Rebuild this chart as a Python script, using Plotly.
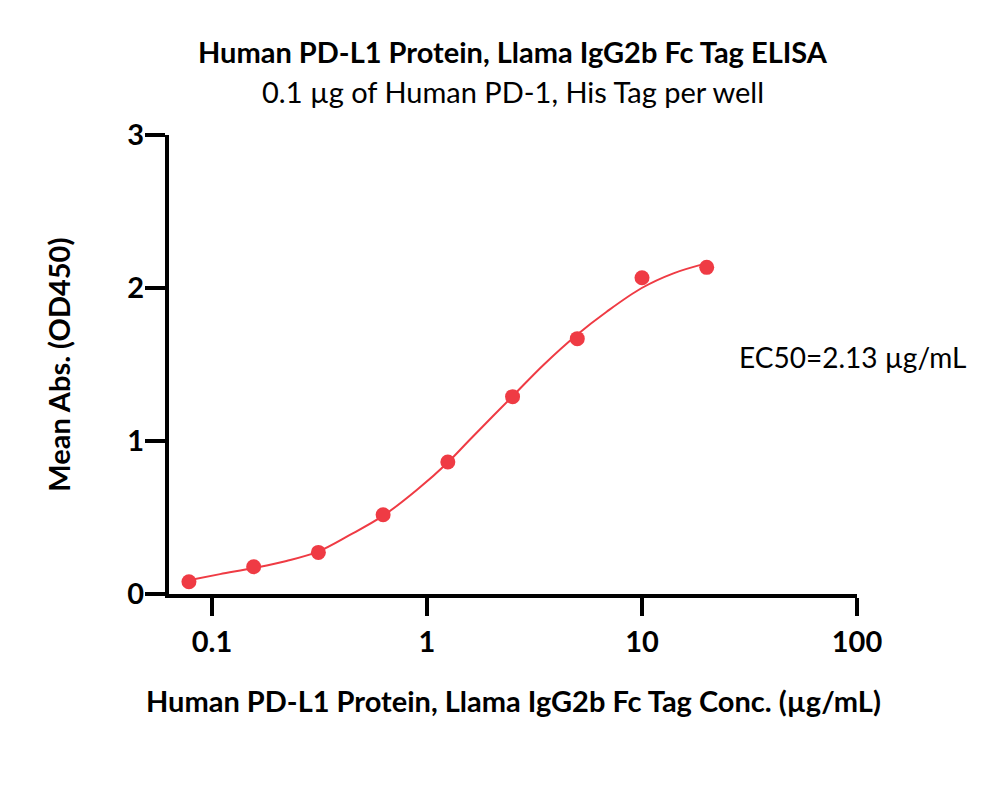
import plotly.graph_objects as go

# ELISA data: concentration (ug/mL) vs mean absorbance
conc = [0.078125, 0.15625, 0.3125, 0.625, 1.25, 2.5, 5, 10, 20]
od450 = [0.080, 0.178, 0.272, 0.518, 0.863, 1.290, 1.669, 2.067, 2.135]

# fitted curve
fit_conc = [0.078, 0.109, 0.156, 0.222, 0.311, 0.438, 0.626, 0.896, 1.25,
            1.585, 2.49, 3.48, 4.97, 6.85, 9.97, 14.0, 19.9]
fit_od = [0.090, 0.130, 0.170, 0.216, 0.277, 0.386, 0.512, 0.680, 0.860,
          1.010, 1.290, 1.497, 1.693, 1.845, 2.000, 2.096, 2.161]

x_ticks = [0.1, 1, 10, 100]
x_ticktext = ["0.1", "1", "10", "100"]
y_ticks = [0, 1, 2, 3]

red = "#EF3B44"
font = "Lato"
fs = 29

fig = go.Figure()
fig.add_trace(go.Scatter(x=fit_conc, y=fit_od, mode="lines",
                         line=dict(color=red, width=2, shape="spline"),
                         hoverinfo="skip"))
fig.add_trace(go.Scatter(x=conc, y=od450, mode="markers",
                         marker=dict(color=red, size=15)))

fig.update_xaxes(type="log", range=[-1.2, 2], tickvals=x_ticks, ticktext=x_ticktext,
                 showline=True, linewidth=4, linecolor="black",
                 ticks="outside", ticklen=18, tickwidth=4, tickcolor="black",
                 showgrid=False, zeroline=False, ticklabelstandoff=1,
                 tickfont=dict(family=font, size=fs, color="black", weight="bold"))
fig.update_yaxes(range=[0, 3], tickvals=y_ticks,
                 showline=True, linewidth=4, linecolor="black",
                 ticks="outside", ticklen=20, tickwidth=4, tickcolor="black",
                 showgrid=False, zeroline=False, ticklabelstandoff=-5,
                 tickfont=dict(family=font, size=fs, color="black", weight="bold"))

fig.update_layout(
    width=1000, height=790,
    margin=dict(l=161, r=151, t=127, b=204),
    plot_bgcolor="white", paper_bgcolor="white",
    showlegend=False,
    annotations=[
        dict(text="<b>Human PD-L1 Protein, Llama IgG2b Fc Tag ELISA</b>",
             x=0.5, y=1.181, xref="paper", yref="paper", showarrow=False,
             yanchor="middle", font=dict(family=font, size=fs, color="black")),
        dict(text="0.1 µg of Human PD-1, His Tag per well",
             x=0.5, y=1.094, xref="paper", yref="paper", showarrow=False,
             yanchor="middle", font=dict(family=font, size=fs, color="black")),
        dict(text="<b>Human PD-L1 Protein, Llama IgG2b Fc Tag Conc. (µg/mL)</b>",
             x=0.5, y=-0.231, xref="paper", yref="paper", showarrow=False,
             yanchor="middle", font=dict(family=font, size=fs, color="black")),
        dict(text="<b>Mean Abs. (OD450)</b>", textangle=-90,
             x=-0.161, y=0.5, xref="paper", yref="paper", showarrow=False,
             xanchor="center", yanchor="middle",
             font=dict(family=font, size=fs, color="black")),
        dict(text="EC50=2.13 µg/mL",
             x=0.8256, y=0.516, xref="paper", yref="paper", showarrow=False,
             xanchor="left", yanchor="middle",
             font=dict(family=font, size=28, color="black")),
    ],
)

fig.write_html("out.html")
